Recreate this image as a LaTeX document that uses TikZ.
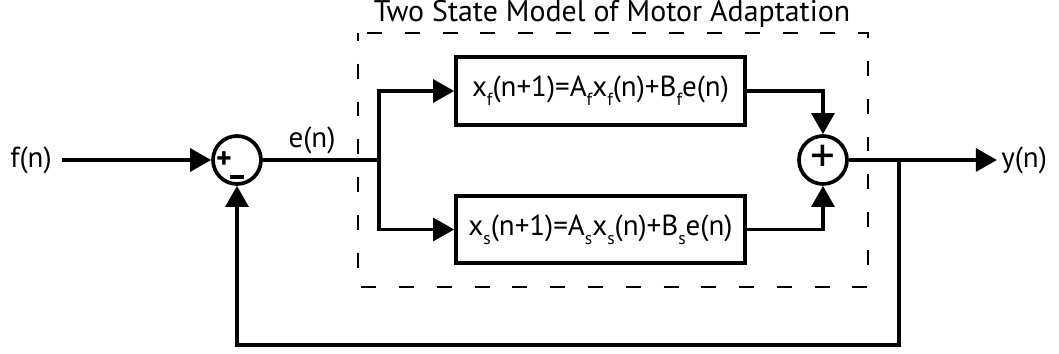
\documentclass[tikz,border=0pt]{standalone}
\usepackage{fontspec}
\setmainfont{PT Sans}
\usepackage{tikz}
\usetikzlibrary{arrows.meta,positioning,calc}
\newcommand{\lo}[1]{\raisebox{-0.6ex}{\fontsize{10}{11}\selectfont #1}}
\tikzset{
  wire/.style={line width=2.1pt,draw=black},
  arr/.style={wire,-{Triangle[length=12pt,width=13pt]}},
  blk/.style={draw,line width=2.1pt,minimum width=5.78cm,minimum height=1.35cm,
              inner sep=2pt,font=\fontsize{16.5}{18}\selectfont},
  sumj/.style={circle,draw,line width=2.1pt,minimum size=0.96cm,inner sep=0pt},
  lbl/.style={font=\fontsize{16.5}{18}\selectfont,inner sep=2pt},
  sgn/.style={font=\bfseries\fontsize{17}{18}\selectfont,inner sep=0pt},
  frame/.style={draw,line width=1pt,dash pattern=on 8.5pt off 13pt,dash phase=4pt},
}
\begin{document}
\begin{tikzpicture}[x=0.02cm,y=-0.02cm]
  \useasboundingbox (0,0) rectangle (1059,354);
  % dashed frame and title
  \draw[frame] (358,33) rectangle (868,287);
  \node[lbl,font=\fontsize{17}{18}\selectfont] (ttl) at (612,14) {Two State Model of Motor Adaptation};
  % summing junctions
  \node[sumj] (sa) at (237,160) {};
  \node[sgn] (pa) at (224,160) {+};
  \node[sgn] (ma) at (237,177) {\rule{8.5pt}{2pt}};
  \node[sumj] (sb) at (823,160) {};
  \node[sgn,font=\fontsize{28}{28}\selectfont] (pb) at (823,159) {+};
  % state blocks
  \node[blk] (fast) at (600.5,91) {x\lo{f}(n+1)=A\lo{f}x\lo{f}(n)+B\lo{f}e(n)};
  \node[blk] (slow) at (600.5,229.5) {x\lo{s}(n+1)=A\lo{s}x\lo{s}(n)+B\lo{s}e(n)};
  % signals
  \node[lbl,inner sep=0.2cm] (fn) at (31,160) {f(n)};
  \node[lbl] (en) at (312,140) {e(n)};
  \node[lbl,anchor=west,inner sep=0.08cm] (yn) at (997,160) {y(n)};
  \coordinate (split) at (379,160);
  \coordinate (tap) at (899,160);
  \coordinate (fbk) at (899,345);
  \draw[arr] (fn.east) -- (sa.west);
  \draw[wire] (sa.east) -- (split);
  \draw[arr] (split) |- (fast.west);
  \draw[arr] (split) |- (slow.west);
  \draw[arr] (fast.east) -| (sb.north);
  \draw[arr] (slow.east) -| (sb.south);
  \draw[arr] (sb.east) -- (yn.west);
  \draw[arr] (tap) -- (fbk) -| (sa.south);
\end{tikzpicture}
\end{document}
